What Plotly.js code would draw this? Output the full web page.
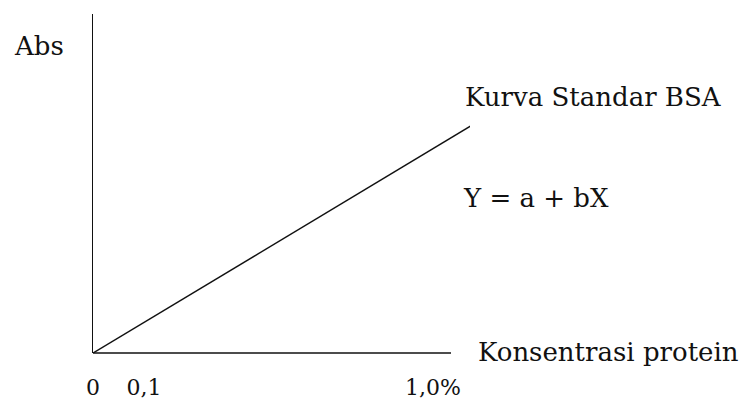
<!DOCTYPE html>
<html>
<head>
<meta charset="utf-8">
<script src="https://cdn.plot.ly/plotly-3.0.1.min.js"></script>
<style>
  html, body { margin: 0; padding: 0; background: #fff; }
  #chart { width: 749px; height: 401px; }
</style>
</head>
<body>
<div id="chart"></div>
<script>
// ── Data ──
const concX = [0, 1.12];          // konsentrasi protein (%)
const absY  = [0, 0.675];         // absorbansi (relatif)

const tickVals = [0, 0.15, 1.0];
const tickText = ["0", "0,1", "1,0%"];

const yLabel     = "Abs";
const xLabel     = "Konsentrasi protein";
const curveLabel = "Kurva Standar BSA";
const eqLabel    = "Y = a + bX";

// ── Plot area in pixels (used only to place the labels) ──
const L = 93, R = 470, T = 14, B = 353;
const px = x => (x - L) / (R - L);
const py = y => (B - y) / (B - T);

const serif = "DejaVu Serif, Liberation Serif, serif";

function label(text, x, y) {
    return {
        text: text,
        xref: "paper", yref: "paper",
        x: px(x), y: py(y),
        xanchor: "left", yanchor: "middle",
        showarrow: false,
        font: { family: serif, size: 26, color: "#111" }
    };
}

Plotly.newPlot("chart", [{
    x: concX,
    y: absY,
    type: "scatter",
    mode: "lines",
    line: { color: "#111", width: 1.5 },
    hoverinfo: "skip"
}], {
    width: 749,
    height: 401,
    margin: { l: L, r: 749 - R, t: T, b: 401 - B },
    paper_bgcolor: "#fff",
    plot_bgcolor: "#fff",
    showlegend: false,
    xaxis: {
        range: [0, (R - L) / (433 - L)],
        tickvals: tickVals,
        ticktext: tickText,
        ticks: "",
        showgrid: false,
        zeroline: false,
        showline: false,
        ticklabelstandoff: 19,
        tickfont: { family: serif, size: 22, color: "#111" }
    },
    yaxis: {
        range: [0, 1],
        showticklabels: false,
        ticks: "",
        showgrid: false,
        zeroline: false,
        showline: true,
        linecolor: "#111",
        linewidth: 1.5
    },
    shapes: [{
        type: "line",
        xref: "paper", yref: "paper",
        x0: 0, x1: px(451), y0: 0, y1: 0,
        line: { color: "#111", width: 1.5 }
    }],
    annotations: [
        label(yLabel, 12, 46),
        label(curveLabel, 463, 97),
        label(eqLabel, 461, 198),
        label(xLabel, 476, 352)
    ]
}, { displayModeBar: false, staticPlot: true });
</script>
</body>
</html>
